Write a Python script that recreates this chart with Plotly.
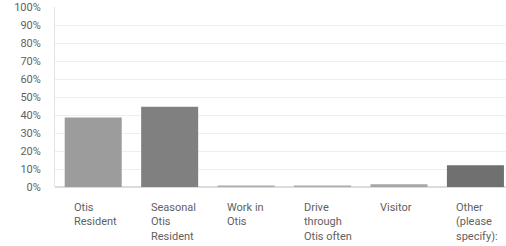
import plotly.graph_objects as go

categories = ["Otis<br>Resident", "Seasonal<br>Otis<br>Resident", "Work in<br>Otis",
              "Drive<br>through<br>Otis often", "Visitor", "Other<br>(please<br>specify):"]
values = [38.6, 44.6, 0.8, 0.8, 1.5, 12.1]
colors = ["#9c9c9c", "#808080", "#ababab", "#ababab", "#a6a6a6", "#707070"]
y_ticks = [0, 10, 20, 30, 40, 50, 60, 70, 80, 90, 100]
y_tick_labels = [f"{v}%" for v in y_ticks]

x_idx = list(range(len(categories)))
FONT = "Roboto, Open Sans, sans-serif"

fig = go.Figure(go.Bar(x=x_idx, y=values, marker=dict(color=colors, line=dict(width=0)),
                       hoverinfo="skip"))

for i, c in enumerate(categories):
    fig.add_annotation(x=i, y=0, xref="x", yref="paper", text=c, showarrow=False,
                       xanchor="left", yanchor="top", align="left", xshift=-21, yshift=-12,
                       font=dict(family=FONT, size=11, color="#5f5f5f"))

fig.update_layout(
    width=506, height=246,
    margin=dict(l=55, r=0, t=7, b=59),
    paper_bgcolor="white", plot_bgcolor="white",
    bargap=0.254, showlegend=False,
    font=dict(family=FONT, size=11, color="#5f5f5f"),
)
fig.update_xaxes(range=[-0.5, 5.4], showticklabels=False, showgrid=False, zeroline=False,
                 showline=False, ticks="")
fig.update_yaxes(range=[0, 100], tickvals=y_ticks, ticktext=y_tick_labels,
                 showgrid=True, gridcolor="#efefef", gridwidth=1, zeroline=True,
                 zerolinecolor="#dcdcdc", zerolinewidth=1.5,
                 showline=True, linecolor="#e3e3e3", linewidth=1, ticks="",
                 ticklabelstandoff=11, tickfont=dict(family=FONT, size=11, color="#5f5f5f"))

fig.write_html("out.html", config={"displayModeBar": False, "staticPlot": True},
               post_script="document.body.style.margin='0';document.body.style.overflow='hidden';")
